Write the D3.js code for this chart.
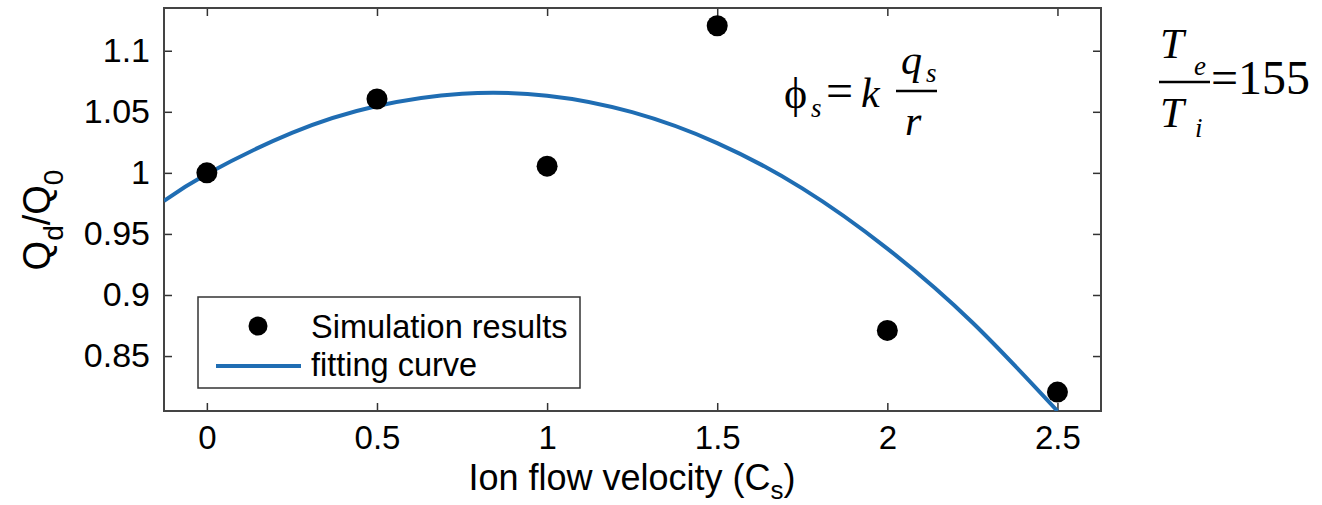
<!DOCTYPE html>
<html>
<head>
<meta charset="utf-8">
<script src="https://cdn.jsdelivr.net/npm/d3@7"></script>
<style>
  body { margin: 0; background: #fff; }
  text { font-family: "Liberation Sans", Arial, sans-serif; fill: #000; }
  text.tex { font-family: "Liberation Serif", "Times New Roman", serif; font-style: italic; }
  text.rom { font-family: "Liberation Serif", "Times New Roman", serif; }
</style>
</head>
<body>
<svg id="chart"></svg>
<script>
// simulation points
var velocity = [0, 0.5, 1, 1.5, 2, 2.5];
var charge = [1.0, 1.0605, 1.0055, 1.1205, 0.871, 0.8205];

// fitting curve
var fitX = [-0.126, 0, 0.25, 0.5, 0.75, 1.0, 1.25, 1.5, 1.75, 2.0, 2.25, 2.5];
var fitY = [0.977, 0.999, 1.0327, 1.0547, 1.0648, 1.0632, 1.0497, 1.0244, 0.9873, 0.938, 0.8775, 0.805];

var xTicks = [0, 0.5, 1, 1.5, 2, 2.5];
var yTicks = [0.85, 0.9, 0.95, 1, 1.05, 1.1];

var width = 1322, height = 505;
var pLeft = 164, pRight = 1101, pTop = 8, pBottom = 411;
var blue = "#1f6db3";

var svg = d3.select("#chart")
  .attr("width", width)
  .attr("height", height);

var x = d3.scaleLinear().domain([-0.126, 2.628]).range([pLeft, pRight]);
var y = d3.scaleLinear().domain([0.805, 1.135]).range([pBottom, pTop]);

// axes, ticks pointing inward like matlab
function fmt(d) { return String(d); }

svg.append("g")
  .attr("transform", "translate(0," + pBottom + ")")
  .call(d3.axisBottom(x).tickValues(xTicks).tickFormat(fmt).tickSize(-8).tickSizeOuter(0).tickPadding(15))
  .call(g => g.select(".domain").remove())
  .call(g => g.selectAll("line").attr("stroke", "#333").attr("stroke-width", 1.5))
  .call(g => g.selectAll("text").style("font-size", "33px").attr("fill", "#000"));

svg.append("g")
  .attr("transform", "translate(0," + pTop + ")")
  .call(d3.axisTop(x).tickValues(xTicks).tickFormat("").tickSize(-8).tickSizeOuter(0))
  .call(g => g.select(".domain").remove())
  .call(g => g.selectAll("line").attr("stroke", "#333").attr("stroke-width", 1.5));

svg.append("g")
  .attr("transform", "translate(" + pLeft + ",0)")
  .call(d3.axisLeft(y).tickValues(yTicks).tickFormat(fmt).tickSize(-8).tickSizeOuter(0).tickPadding(14))
  .call(g => g.select(".domain").remove())
  .call(g => g.selectAll("line").attr("stroke", "#333").attr("stroke-width", 1.5))
  .call(g => g.selectAll("text").style("font-size", "34px").attr("fill", "#000"));

svg.append("g")
  .attr("transform", "translate(" + pRight + ",0)")
  .call(d3.axisRight(y).tickValues(yTicks).tickFormat("").tickSize(-8).tickSizeOuter(0))
  .call(g => g.select(".domain").remove())
  .call(g => g.selectAll("line").attr("stroke", "#333").attr("stroke-width", 1.5));

svg.append("rect")
  .attr("x", pLeft).attr("y", pTop)
  .attr("width", pRight - pLeft).attr("height", pBottom - pTop)
  .attr("fill", "none").attr("stroke", "#444").attr("stroke-width", 2);

// fitting curve
svg.append("clipPath").attr("id", "plotclip")
  .append("rect")
  .attr("x", pLeft).attr("y", pTop)
  .attr("width", pRight - pLeft).attr("height", pBottom - pTop);

var line = d3.line()
  .x((d, i) => x(fitX[i]))
  .y(d => y(d))
  .curve(d3.curveNatural);

svg.append("path")
  .datum(fitY)
  .attr("clip-path", "url(#plotclip)")
  .attr("d", line)
  .attr("fill", "none")
  .attr("stroke", blue)
  .attr("stroke-width", 4);

// points
svg.append("g").selectAll("circle")
  .data(charge)
  .enter()
  .append("circle")
  .attr("cx", (d, i) => x(velocity[i]))
  .attr("cy", d => y(d))
  .attr("r", 10.5)
  .attr("fill", "#000");

// legend
var lg = svg.append("g");
lg.append("rect")
  .attr("x", 198).attr("y", 297)
  .attr("width", 382).attr("height", 91)
  .attr("fill", "#fff").attr("stroke", "#333").attr("stroke-width", 1.5);
lg.append("circle").attr("cx", 258).attr("cy", 326).attr("r", 9.5).attr("fill", "#000");
lg.append("text").attr("x", 311).attr("y", 338).style("font-size", "32.5px").text("Simulation results");
lg.append("line").attr("x1", 216).attr("x2", 301).attr("y1", 366).attr("y2", 366)
  .attr("stroke", blue).attr("stroke-width", 4);
lg.append("text").attr("x", 311).attr("y", 376).style("font-size", "32.5px").text("fitting curve");

// axis labels
var xl = svg.append("text")
  .attr("x", 632).attr("y", 490)
  .attr("text-anchor", "middle")
  .style("font-size", "36px");
xl.append("tspan").text("Ion flow velocity (C");
xl.append("tspan").attr("dy", 9).style("font-size", "26px").text("s");
xl.append("tspan").attr("dy", -9).text(")");

var yl = svg.append("text")
  .attr("transform", "translate(50,220) rotate(-90)")
  .attr("text-anchor", "middle")
  .style("font-size", "38px");
yl.append("tspan").text("Q");
yl.append("tspan").attr("dy", 13).style("font-size", "28px").text("d");
yl.append("tspan").attr("dy", -13).text("/Q");
yl.append("tspan").attr("dy", 13).style("font-size", "28px").text("0");

// formula annotations
var f1 = svg.append("g");
f1.append("text").attr("class", "rom").attr("x", 784).attr("y", 108).style("font-size", "44px").text("\u03D5");
f1.append("text").attr("class", "tex").attr("x", 811).attr("y", 117).style("font-size", "27px").text("s");
f1.append("text").attr("class", "rom").attr("x", 826).attr("y", 107).style("font-size", "48px").text("=");
f1.append("text").attr("class", "tex").attr("x", 861).attr("y", 107).style("font-size", "42px").text("k");
f1.append("text").attr("class", "tex").attr("x", 901).attr("y", 74).style("font-size", "42px").text("q");
f1.append("text").attr("class", "tex").attr("x", 926).attr("y", 82).style("font-size", "27px").text("s");
f1.append("line").attr("x1", 896).attr("x2", 937).attr("y1", 91).attr("y2", 91)
  .attr("stroke", "#000").attr("stroke-width", 2.5);
f1.append("text").attr("class", "tex").attr("x", 905).attr("y", 135).style("font-size", "42px").text("r");

var f2 = svg.append("g");
f2.append("text").attr("class", "tex").attr("x", 1160).attr("y", 58).style("font-size", "43px").text("T");
f2.append("text").attr("class", "tex").attr("x", 1194).attr("y", 75).style("font-size", "27px").text("e");
f2.append("line").attr("x1", 1159).attr("x2", 1210).attr("y1", 82).attr("y2", 82)
  .attr("stroke", "#000").attr("stroke-width", 2.5);
f2.append("text").attr("class", "tex").attr("x", 1160).attr("y", 127).style("font-size", "43px").text("T");
f2.append("text").attr("class", "tex").attr("x", 1195).attr("y", 137).style("font-size", "27px").text("i");
f2.append("text").attr("class", "rom").attr("x", 1211).attr("y", 94).style("font-size", "48px").text("=155");
</script>
</body>
</html>
